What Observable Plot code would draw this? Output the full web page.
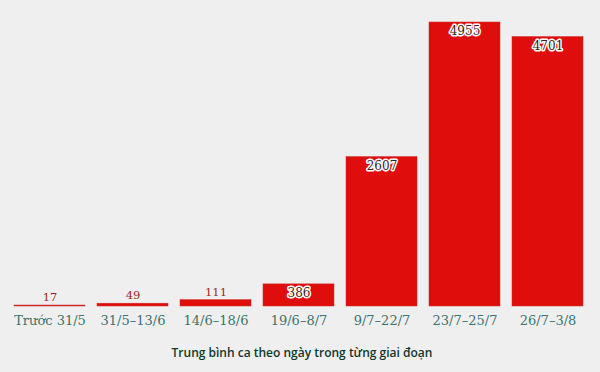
<!DOCTYPE html>
<html>
<head>
<meta charset="utf-8">
<script src="https://cdn.jsdelivr.net/npm/d3@7"></script>
<script src="https://cdn.jsdelivr.net/npm/@observablehq/plot@0.6"></script>
<style>
  html, body { margin: 0; padding: 0; background: #efefef; }
  #chart { width: 600px; }
  #caption { width: 600px; text-align: center; font-family: "Open Sans", sans-serif; font-weight: 600; font-size: 12px; color: #12372b; margin-top: 9px; padding-left: 2px; }
</style>
</head>
<body>
<div id="chart"></div>
<div id="caption">Trung bình ca theo ngày trong từng giai đoạn</div>
<script>
const periods = ["Trước 31/5", "31/5–13/6", "14/6–18/6", "19/6–8/7", "9/7–22/7", "23/7–25/7", "26/7–3/8"];
const values = [17, 49, 111, 386, 2607, 4955, 4701];

const data = periods.map((p, i) => ({period: p, value: values[i]}));
const small = data.filter(d => d.value < 300);
const large = data.filter(d => d.value >= 300);

const chart = Plot.plot({
  width: 600,
  height: 335,
  marginTop: 22,
  marginBottom: 29,
  marginLeft: 8,
  marginRight: 12,
  style: { background: "#efefef", fontFamily: "'DejaVu Serif', serif" },
  x: { domain: periods, paddingInner: 0.15, paddingOuter: 0.05, label: null },
  y: { domain: [0, 4955], axis: null },
  marks: [
    Plot.barY(data, { x: "period", y: "value", fill: "#e00d0d", stroke: "#c8302a", strokeWidth: 0.5 }),
    Plot.axisX({ tickSize: 0, tickPadding: 9, fontSize: 13, fill: "#3b736e", label: null, fontFamily: "'DejaVu Serif', serif" }),
    Plot.text(small, { x: "period", y: "value", text: d => String(d.value), dy: -8, fill: "#a01f22", fontSize: 11.5 }),
    Plot.text(large, { x: "period", y: "value", text: d => String(d.value), dy: 9, fill: "#3a2020", stroke: "white", strokeWidth: 3, fontSize: 12 })
  ]
});
document.getElementById("chart").append(chart);
</script>
</body>
</html>
